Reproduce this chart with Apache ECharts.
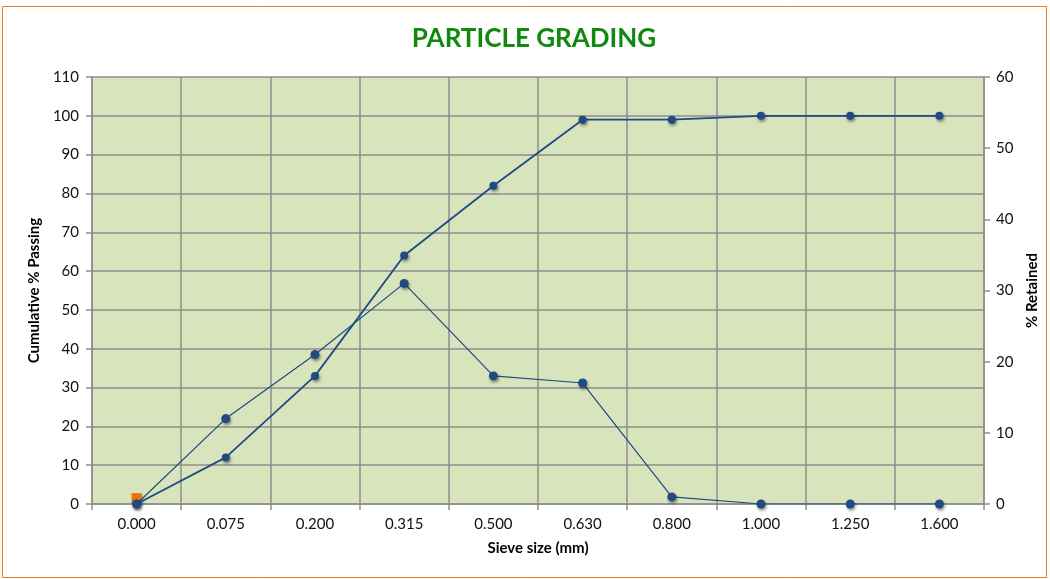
<!DOCTYPE html>
<html><head><meta charset="utf-8">
<script src="https://cdn.jsdelivr.net/npm/echarts@6/dist/echarts.min.js"></script>
<style>html,body{margin:0;padding:0;background:#fff}#c{width:1050px;height:579px}</style>
</head><body><div id="c"></div>
<script>
var categories = ['0.000','0.075','0.200','0.315','0.500','0.630','0.800','1.000','1.250','1.600'];
var cumulativePassing = [0, 12, 33, 64, 82, 99, 99, 100, 100, 100];
var percentRetained = [0, 12, 21, 31, 18, 17, 1, 0, 0, 0];
var extraPoint = [1.5, null, null, null, null, null, null, null, null, null];
var leftTicks = {min: 0, max: 110, interval: 10};
var rightTicks = {min: 0, max: 60, interval: 10};

var F = 'Lato, "Open Sans", sans-serif';
var blue = '#1f4a82';
var gridC = '#8e8e8e';
var shadow = {shadowBlur: 3, shadowOffsetX: 1, shadowOffsetY: 2, shadowColor: 'rgba(0,0,0,0.45)'};
var chart = echarts.init(document.getElementById('c'));
chart.setOption({
  animation: false,
  backgroundColor: '#fff',
  graphic: [{type: 'rect', shape: {x: 2.5, y: 6.5, width: 1044, height: 571},
    style: {fill: null, stroke: '#f07c1c', lineWidth: 1}, z: -1},
    {type: 'text', x: 534, y: 39, style: {text: 'PARTICLE GRADING', align: 'center', verticalAlign: 'middle',
      fill: '#0f8a0f', font: 'bold 26px ' + F}}],
  grid: {left: 92, right: 66, top: 77, bottom: 75, show: true, backgroundColor: '#d8e4bc', borderWidth: 0},
  xAxis: {type: 'category', data: categories, boundaryGap: true,
    name: 'Sieve size (mm)', nameLocation: 'middle', nameGap: 37,
    nameTextStyle: {fontFamily: F, fontWeight: 'bold', fontSize: 15, color: '#000'},
    axisLine: {lineStyle: {color: gridC, width: 1.5}},
    axisTick: {show: true, length: 6, lineStyle: {color: gridC, width: 1.5}},
    axisLabel: {fontFamily: F, fontSize: 15, color: '#111', margin: 13},
    splitLine: {show: true, lineStyle: {color: gridC, width: 1.5}}},
  yAxis: [{type: 'value', min: leftTicks.min, max: leftTicks.max, interval: leftTicks.interval, position: 'left',
    name: 'Cumulative % Passing', nameLocation: 'middle', nameGap: 47, nameRotate: 90,
    nameTextStyle: {fontFamily: F, fontWeight: 'bold', fontSize: 15, color: '#000'},
    axisLine: {show: true, lineStyle: {color: gridC, width: 1.5}},
    axisTick: {show: true, length: 6, lineStyle: {color: gridC, width: 1.5}},
    axisLabel: {fontFamily: F, fontSize: 15, color: '#111', margin: 13},
    splitLine: {show: true, lineStyle: {color: gridC, width: 1.5}}},
   {type: 'value', min: rightTicks.min, max: rightTicks.max, interval: rightTicks.interval, position: 'right',
    name: '% Retained', nameLocation: 'middle', nameGap: 41, nameRotate: 90,
    nameTextStyle: {fontFamily: F, fontWeight: 'bold', fontSize: 15, color: '#000'},
    axisLine: {show: true, lineStyle: {color: gridC, width: 1.5}},
    axisTick: {show: true, length: 6, lineStyle: {color: gridC, width: 1.5}},
    axisLabel: {fontFamily: F, fontSize: 15, color: '#111', margin: 12},
    splitLine: {show: false}}],
  series: [
    {type: 'line', yAxisIndex: 0, data: extraPoint, symbol: 'rect', symbolSize: 10, z: 2,
      itemStyle: Object.assign({color: '#e8720c'}, shadow), lineStyle: {width: 0}},
    {type: 'line', yAxisIndex: 0, data: cumulativePassing, symbol: 'circle', symbolSize: 8, z: 3,
      lineStyle: {color: blue, width: 1.8}, itemStyle: Object.assign({color: blue}, shadow)},
    {type: 'line', yAxisIndex: 1, data: percentRetained, symbol: 'circle', symbolSize: 9, z: 3,
      lineStyle: {color: blue, width: 1.2}, itemStyle: Object.assign({color: blue}, shadow)}
  ]
});
</script></body></html>
